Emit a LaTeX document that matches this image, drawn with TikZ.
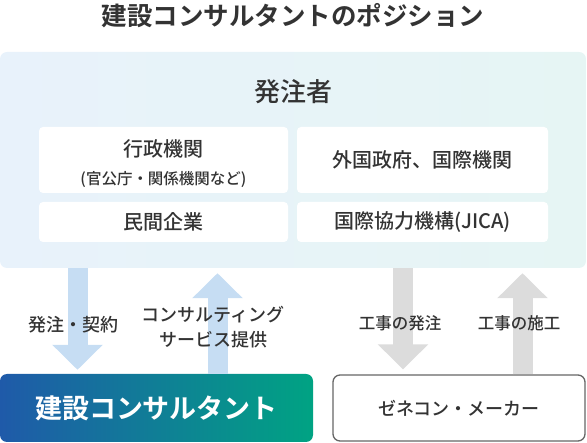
\documentclass[tikz,border=0pt]{standalone}
\usepackage{fontspec}
\setmainfont{Noto Sans CJK JP}[UprightFont=* Medium,BoldFont=* Bold]
\usetikzlibrary{arrows.meta}

\definecolor{txtgray}{HTML}{333333}
\definecolor{paleblue}{HTML}{E8F2FB}
\definecolor{paleteal}{HTML}{E6F5F4}
\definecolor{arrowblue}{HTML}{C6DDF3}
\definecolor{arrowgray}{HTML}{DCDCDC}
\definecolor{deepblue}{HTML}{1F5AA9}
\definecolor{deepteal}{HTML}{00A383}
\definecolor{framegray}{HTML}{666666}

\tikzset{
	whitebox/.style={fill=white,rounded corners=4pt,text=txtgray,align=center,inner sep=0pt},
	bluearrow/.style={draw=arrowblue,line width=20pt,-{Triangle[width=49pt,length=25pt]}},
	grayarrow/.style={draw=arrowgray,line width=20pt,-{Triangle[width=49pt,length=25pt]}},
	arrowlabel/.style={text=txtgray,align=center,inner sep=0pt}
}

\begin{document}
\begin{tikzpicture}[x=1pt,y=-1pt]
					\useasboundingbox (0,0) rectangle (587,443);
					
					\node (title) at (293,16) [text=txtgray,font=\fontsize{25.5}{30}\selectfont\bfseries]{建設コンサルタントのポジション};
					
					% client side
					\node (owner) at (293,160) [rounded corners=7pt,left color=paleblue,right color=paleteal,minimum width=586pt,minimum height=216pt,inner sep=0pt]{};
					\node (ownerlabel) at (293,92) [text=txtgray,font=\fontsize{26}{30}\selectfont]{発注者};
					
					\node[whitebox,minimum width=249pt,minimum height=66pt,font=\fontsize{20}{28}\selectfont] (gov) at (163.5,160)
					{\rule{0pt}{25pt}行政機関\\{\fontsize{15.5}{18}\selectfont (官公庁・関係機関など)}};
					\node[whitebox,minimum width=249pt,minimum height=40pt,font=\fontsize{20}{24}\selectfont] (private) at (163.5,222)
					{民間企業};
					\node[whitebox,minimum width=251pt,minimum height=66pt,font=\fontsize{20}{24}\selectfont] (foreign) at (422.5,160)
					{外国政府、国際機関};
					\node[whitebox,minimum width=251pt,minimum height=40pt,font=\fontsize{20}{24}\selectfont] (jica) at (422.5,222)
					{国際協力機構(JICA)};
					
					% receiving side
					\node (consultant) at (156.5,408) [rounded corners=7pt,left color=deepblue,right color=deepteal,minimum width=313pt,minimum height=68pt,inner sep=0pt,text=white,font=\fontsize{27}{32}\selectfont\bfseries]
					{建設コンサルタント};
					\node (contractor) at (459,408) [draw=framegray,line width=1.3pt,rounded corners=7pt,fill=white,minimum width=252pt,minimum height=66pt,inner sep=0pt,text=txtgray,font=\fontsize{18}{24}\selectfont]
					{ゼネコン・メーカー};
					
					\coordinate (c1) at (77.5,0);
					\coordinate (c2) at (217.5,0);
					\coordinate (c3) at (403,0);
					\coordinate (c4) at (522.5,0);
					
					\draw [bluearrow,shorten >=4pt] (owner.south -| c1) -- (consultant.north -| c1);
					\draw [bluearrow,shorten >=5pt] (consultant.north -| c2) -- (owner.south -| c2);
					\draw [grayarrow,shorten >=5pt] (owner.south -| c3) -- (contractor.north -| c3);
					\draw [grayarrow,shorten >=5pt] (contractor.north -| c4) -- (owner.south -| c4);
					
					\node[arrowlabel,font=\fontsize{18}{24}\selectfont] (order) at (73,325) {発注・契約};
					\node[arrowlabel,font=\fontsize{18}{25}\selectfont] (service) at (213,327) {コンサルティング\\サービス提供};
					\node[arrowlabel,font=\fontsize{16.5}{20}\selectfont] (workorder) at (400,323) {工事の発注};
					\node[arrowlabel,font=\fontsize{16.5}{20}\selectfont] (workdone) at (519,323) {工事の施工};
					
\end{tikzpicture}
\end{document}
